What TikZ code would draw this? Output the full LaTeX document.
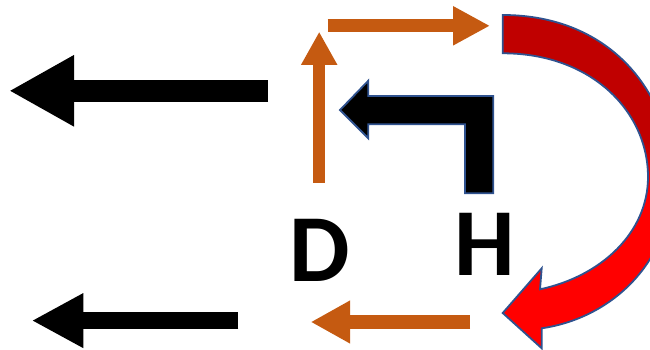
\documentclass[tikz,border=0pt]{standalone}
\usepackage{fontspec}
\setmainfont{Carlito}
\usetikzlibrary{arrows.meta}

\definecolor{rust}{HTML}{C55A11}
\definecolor{edgeblue}{HTML}{2F528F}
\definecolor{redlo}{HTML}{C00000}
\definecolor{redhi}{HTML}{FF0000}
\pgfdeclareverticalshading{redturn}{100bp}{color(0bp)=(redhi); color(48bp)=(redhi); color(56bp)=(redlo); color(100bp)=(redlo)}

\begin{document}
\begin{tikzpicture}
  [x=1pt,y=-1pt,every node/.style={inner sep=0pt,anchor=base,font=\bfseries\fontsize{96}{96}\selectfont}]
  \useasboundingbox (0,0) rectangle (650,350);

  \node (D) at (320,281.7) {D};
  \node (H) at (485,275)   {H};

  \coordinate (s1) at (268,90.8);   \coordinate (t1) at (9,90.8);
  \coordinate (s2) at (238.3,320.6); \coordinate (t2) at (31.7,320.6);
  \coordinate (s3) at (319.2,182.7); \coordinate (t3) at (319.2,31.7);
  \coordinate (s4) at (327.7,25.8);  \coordinate (t4) at (490,25.8);
  \coordinate (s5) at (470,322);     \coordinate (t5) at (310.7,322);

  \foreach \from/\to/\wd/\hl/\hw/\col in {s1/t1/21.7/65/66.6/black,s2/t2/17.6/51.6/51/black,
      s3/t3/11.7/33.3/34/rust,s4/t4/13/37/36.7/rust,s5/t5/14/39.3/40/rust}
    \draw[line width=\wd pt,color=\col,-{Triangle[length=\hl pt,width=\hw pt]}] (\from) -- (\to);

  % bent arrow
  \filldraw[fill=black,draw=edgeblue,line width=1.8pt]
    (340,110) -- (368.3,80.7) -- (368.3,96) -- (493.3,96) -- (493.3,193.3)
    -- (465,193.3) -- (465,124.3) -- (368.3,124.3) -- (368.3,138.3) -- cycle;

  % curved arrow
  \begin{scope}
    \clip (0,0) rectangle (650,350);
    \shadedraw[shading=redturn,draw=edgeblue,line width=1.8pt]
      (502.7,15) -- (502.7,53.3)
      .. controls (592,53.3) and (648,112) .. (648,177)
      .. controls (648,232) and (602,276) .. (540,289.3)
      -- (541.7,268.3) -- (502.7,313) -- (541.7,348.3) -- (541.7,328.3)
      .. controls (612,318) and (672,262) .. (672,180)
      .. controls (672,95) and (612,15) .. (502.7,15) -- cycle;
  \end{scope}
\end{tikzpicture}
\end{document}
